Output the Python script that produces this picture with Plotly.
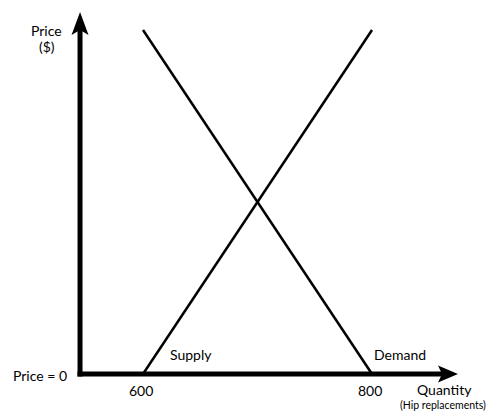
import plotly.graph_objects as go

# Datos del gráfico de oferta y demanda
quantity = [600, 800]
supply_price = [0, 100]
demand_price = [100, 0]
tick_values = [600, 800]
tick_labels = ["600", "800"]

# Geometría de los ejes (unidades de datos)
X_MIN, X_MAX = 475.1, 908.3
Y_MIN, Y_MAX = -11.05, 108.72
AXIS_Q = 545.0        # posición del eje vertical
AXIS_LEFT = 542.8     # inicio del eje horizontal
X_TIP = 875.1         # punta de la flecha horizontal
Y_TIP = 105.2         # punta de la flecha vertical
Y_BOTTOM = -0.73

FONT = "Lato"
BLACK = "#000000"

fig = go.Figure()

fig.add_trace(go.Scatter(x=quantity, y=supply_price, mode="lines",
                         line=dict(color=BLACK, width=2.5), name="Supply"))
fig.add_trace(go.Scatter(x=quantity, y=demand_price, mode="lines",
                         line=dict(color=BLACK, width=2.5), name="Demand"))

# --- Ejes con flechas ---
fig.add_shape(type="line", x0=AXIS_Q, x1=AXIS_Q, y0=Y_BOTTOM, y1=Y_TIP - 4,
              line=dict(color=BLACK, width=5))
fig.add_shape(type="line", x0=AXIS_LEFT, x1=X_TIP - 12, y0=0, y1=0,
              line=dict(color=BLACK, width=5))
fig.add_shape(type="path", xsizemode="pixel", ysizemode="pixel",
              xanchor=AXIS_Q, yanchor=Y_TIP,
              path="M0,0 L-8.5,-23 L0,-18 L8.5,-23 Z",
              fillcolor=BLACK, line=dict(color=BLACK, width=0))
fig.add_shape(type="path", xsizemode="pixel", ysizemode="pixel",
              xanchor=X_TIP, yanchor=0,
              path="M0,0 L-20,8.5 L-16,0 L-20,-8.5 Z",
              fillcolor=BLACK, line=dict(color=BLACK, width=0))

# --- Textos ---
def label(text, x, y, xanchor="center", size=14):
    fig.add_annotation(x=x, y=y, text=text, showarrow=False,
                       xanchor=xanchor, yanchor="middle",
                       font=dict(family=FONT, size=size, color=BLACK))

label("Price", 516.0, 100.0)
label("($)", 516.0, 95.3)
label("Price = 0", 535.4, -0.58, xanchor="right")
for v, t in zip(tick_values, tick_labels):
    label(t, v - 2, -4.94)
label("Quantity", 863.3, -4.5)
label("(Hip replacements)", 862.4, -9.0, size=10.5)
label("Supply", 621.8, 5.8, xanchor="left")
label("Demand", 800.0, 5.8, xanchor="left")

fig.update_layout(
    width=496, height=412,
    margin=dict(l=0, r=0, t=0, b=0),
    paper_bgcolor="white", plot_bgcolor="white",
    showlegend=False,
    xaxis=dict(range=[X_MIN, X_MAX], visible=False, fixedrange=True),
    yaxis=dict(range=[Y_MIN, Y_MAX], visible=False, fixedrange=True),
)

# quitar el margen por defecto del body para que la figura llene la ventana
fig.write_html("out.html", config={"displayModeBar": False},
               post_script="document.body.style.margin='0';")
